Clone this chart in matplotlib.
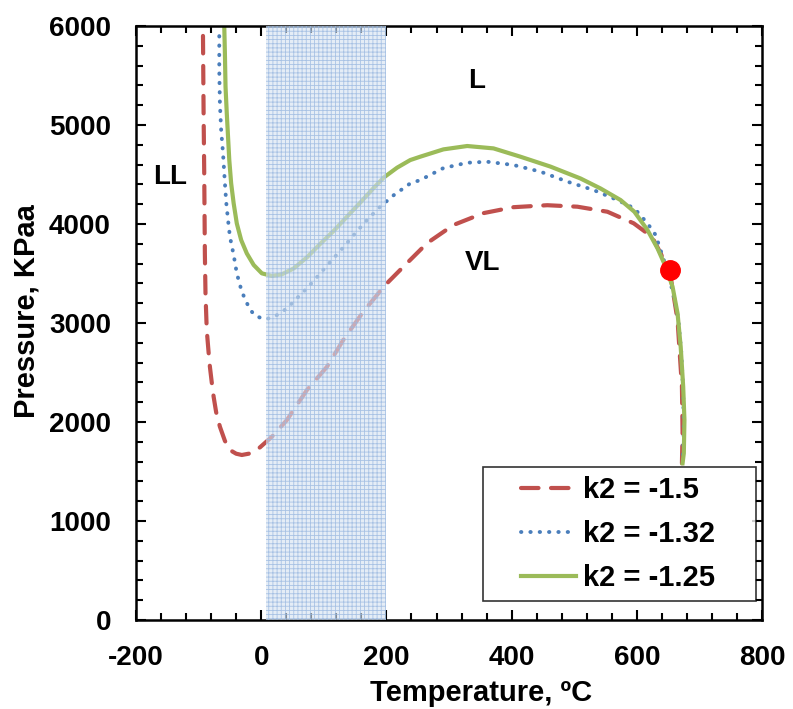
import numpy as np
import matplotlib
matplotlib.use('Agg')
import matplotlib.pyplot as plt
from matplotlib.ticker import MultipleLocator
from matplotlib.lines import Line2D
from matplotlib.legend_handler import HandlerLine2D

plt.rcParams['font.family'] = ['Liberation Sans', 'DejaVu Sans']
plt.rcParams['font.weight'] = 'bold'
plt.rcParams['axes.unicode_minus'] = False
plt.rcParams['hatch.linewidth'] = 0.6

#(0) Data
T_r = [-93, -92, -91, -90, -89, -87, -84, -82, -79, -76, -72, -66, -58, -50, -40, -31, -20,
       -10, -2, 17, 41, 73, 105, 131, 163, 198, 227, 265, 307, 355, 403, 457, 505, 553, 595,
       624, 638, 654, 665, 672, 673, 672]
P_r = [5900, 5100, 4500, 3700, 3300, 2930, 2700, 2560, 2400, 2255, 2100, 1953, 1810, 1717,
       1680, 1667, 1680, 1710, 1744, 1851, 2020, 2323, 2558, 2828, 3114, 3383, 3568, 3807,
       3990, 4110, 4170, 4190, 4175, 4124, 4007, 3872, 3705, 3467, 3030, 2357, 1900, 1583]

T_b = [-67, -67, -66, -64, -61, -59, -56, -53, -50, -44, -39, -31, -19, -11, 4, 18, 30, 43,
       54, 73, 92, 113, 132, 150, 170, 190, 212, 238, 254, 291, 329, 361, 403, 446, 489, 531,
       569, 596, 617, 630, 648, 658, 666, 671, 674, 675, 673]
P_b = [5898, 5555, 5219, 4949, 4713, 4511, 4225, 4040, 3872, 3687, 3502, 3316, 3148, 3081,
       3037, 3054, 3098, 3158, 3232, 3350, 3485, 3636, 3770, 3906, 4047, 4175, 4293, 4410,
       4444, 4565, 4619, 4629, 4596, 4529, 4428, 4343, 4242, 4158, 4006, 3889, 3540, 3300,
       3050, 2700, 2300, 1900, 1583]

T_g = [-59, -58, -57, -55, -53, -51, -48, -44, -39, -32, -23, -12, 1, 17, 33, 52, 73, 94,
       116, 137, 158, 180, 196, 217, 238, 254, 291, 329, 371, 414, 462, 510, 542, 574, 596,
       617, 633, 646, 657, 665, 670, 674, 676, 675, 673]
P_g = [5993, 5724, 5387, 5118, 4882, 4646, 4410, 4208, 4006, 3838, 3703, 3586, 3502, 3475,
       3492, 3552, 3663, 3798, 3932, 4074, 4215, 4367, 4471, 4569, 4646, 4680, 4754, 4788,
       4764, 4680, 4580, 4460, 4359, 4242, 4124, 3939, 3754, 3569, 3367, 3098, 2761, 2357,
       2020, 1683, 1583]

labels = ['k2 = -1.5', 'k2 = -1.32', 'k2 = -1.25']
crit_T, crit_P = 653, 3535
band = (8, 200)
regions = [('LL', -146, 4474), ('L', 344, 5444), ('VL', 354, 3606)]


class Handle(HandlerLine2D):
    # legend line drawn only over the right part of the handle box
    def get_xdata(self, legend, xdescent, ydescent, width, height, fontsize):
        x0 = -xdescent + 0.35 * width
        x1 = -xdescent + width
        return np.array([x0, x1]), np.array([(x0 + x1) / 2])


#(1) Plot
fig = plt.figure(figsize=(7.93, 7.09), dpi=100)
ax = fig.add_axes([0.1715, 0.1255, 0.7895, 0.8378])

ax.plot(T_r, P_r, color='#C0504D', lw=3, dashes=(4.2, 3), solid_joinstyle='round',
        dash_capstyle='round', label=labels[0])
ax.plot(T_b, P_b, color='#4A7EBB', lw=2.8, dashes=(0.1, 2.3), dash_capstyle='round',
        label=labels[1])
ax.plot(T_g, P_g, color='#9BBB59', lw=3, solid_joinstyle='round', label=labels[2])
ax.plot([crit_T], [crit_P], 'o', color='red', ms=14, zorder=5)

ax.axvspan(*band, facecolor=(0.84, 0.89, 0.95, 0.62), edgecolor=(0.60, 0.72, 0.88, 0.8),
           hatch='++++', lw=0, zorder=4)

for txt, x, y in regions:
    ax.text(x, y, txt, fontsize=20, fontweight='bold', ha='center', va='center')

ax.set_xlim(-200, 800)
ax.set_ylim(0, 6000)
ax.xaxis.set_major_locator(MultipleLocator(200))
ax.xaxis.set_minor_locator(MultipleLocator(40))
ax.yaxis.set_major_locator(MultipleLocator(1000))
ax.yaxis.set_minor_locator(MultipleLocator(200))
ax.tick_params(which='both', direction='in', top=True, right=True, width=1.5,
               labelsize=20, pad=18)
ax.tick_params(which='major', length=7)
ax.tick_params(which='minor', length=5)
for s in ax.spines.values():
    s.set_linewidth(1.8)

ax.set_xlabel('Temperature, ºC', fontsize=21, fontweight='bold')
ax.set_ylabel('Pressure, KPaa', fontsize=21, fontweight='bold')
ax.xaxis.set_label_coords(0.551, -0.1)
ax.yaxis.set_label_coords(-0.152, 0.52)

leg = ax.legend(loc='lower left', bbox_to_anchor=(0.554, 0.032, 0.436, 0.229),
                mode='expand', fontsize=21, frameon=True, fancybox=False,
                edgecolor='black', handlelength=2.88, handletextpad=0.24,
                labelspacing=0.55, borderpad=0.3, borderaxespad=0,
                handler_map={Line2D: Handle()})
leg.get_frame().set_linewidth(1.2)

fig.savefig('out.png', dpi=100)
